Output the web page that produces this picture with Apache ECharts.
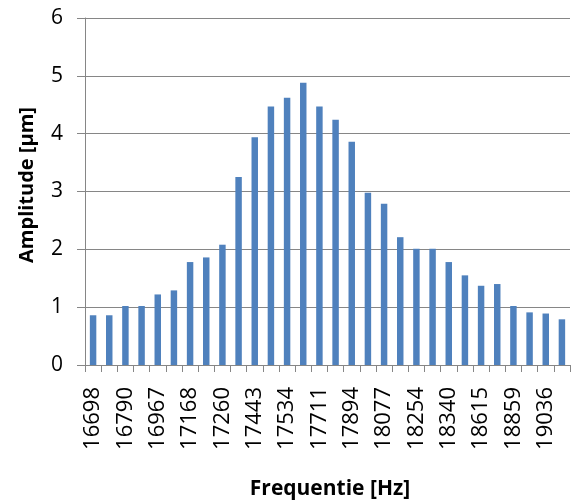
<!DOCTYPE html>
<html>
<head>
<meta charset="utf-8">
<style>html,body{margin:0;padding:0;background:#fff}#c{width:579px;height:502px}</style>
<script src="https://cdn.jsdelivr.net/npm/echarts@6/dist/echarts.min.js"></script>
</head>
<body>
<div id="c"></div>
<script>
var categories = ['16698','16744','16790','16878','16967','17075','17168','17214','17260','17351',
  '17443','17488','17534','17620','17711','17802','17894','17985','18077','18165',
  '18254','18297','18340','18478','18615','18737','18859','18947','19036','19125'];
var amplitudes = [0.86,0.86,1.02,1.02,1.22,1.29,1.78,1.86,2.08,3.25,
  3.94,4.47,4.62,4.88,4.47,4.24,3.86,2.98,2.79,2.21,
  2.01,2.01,1.78,1.55,1.37,1.40,1.02,0.91,0.89,0.79];
var yTicks = [0,1,2,3,4,5,6];
var xTitle = 'Frequentie [Hz]';
var yTitle = 'Amplitude [µm]';

var FONT = 'Open Sans';
var chart = echarts.init(document.getElementById('c'));
chart.setOption({
  animation: false,
  grid: {left: 85, right: 9, top: 18, bottom: 137, containLabel: false},
  xAxis: {
    type: 'category',
    data: categories,
    boundaryGap: true,
    axisLine: {lineStyle: {color: '#868686', width: 1}},
    axisTick: {show: true, interval: 0, length: 7, lineStyle: {color: '#868686'}},
    axisLabel: {interval: 1, rotate: 90, margin: 22, color: '#000', fontFamily: FONT, fontSize: 22}
  },
  yAxis: {
    type: 'value',
    min: yTicks[0], max: yTicks[yTicks.length - 1], interval: 1,
    axisLine: {show: true, lineStyle: {color: '#868686', width: 1}},
    axisTick: {show: true, length: 8, lineStyle: {color: '#868686'}},
    splitLine: {show: true, lineStyle: {color: '#868686', width: 1}},
    axisLabel: {margin: 22, color: '#000', fontFamily: FONT, fontSize: 21}
  },
  series: [{
    type: 'bar',
    data: amplitudes,
    barWidth: '40%',
    itemStyle: {color: '#4F81BD'}
  }],
  graphic: [
    {type: 'text', x: 330, y: 489, style: {text: xTitle, font: 'bold 21px "' + FONT + '"', fill: '#000', align: 'center', verticalAlign: 'middle'}},
    {type: 'text', x: 27, y: 185, rotation: Math.PI / 2, style: {text: yTitle, font: 'bold 20px "' + FONT + '"', fill: '#000', align: 'center', verticalAlign: 'middle'}}
  ]
});
</script>
</body>
</html>
